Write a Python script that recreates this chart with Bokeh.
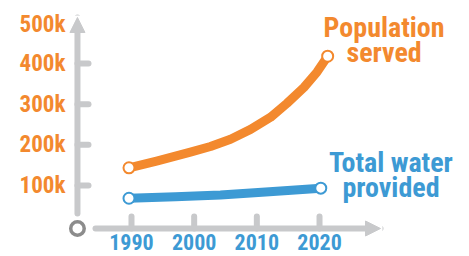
from bokeh.plotting import figure
from bokeh.models import Range1d, Arrow, NormalHead
from bokeh.core.properties import value
from bokeh.embed import file_html
from bokeh.resources import INLINE

# ---- data (values in thousands) ----
years_pop = [1989.6, 1994, 1999.4, 2002.6, 2005.8, 2009.0, 2012.2, 2014.8, 2017.5, 2019.6, 2021.3]
population = [143.6, 160, 182, 196, 214, 238, 268, 302, 341, 379, 418]
years_water = [1989.6, 1997, 2004.2, 2012, 2020.2]
water = [68.8, 72.5, 77, 85, 93.5]
x_ticks = [1990, 2000, 2010, 2020]
x_labels = ["1990", "2000", "2010", "2020"]
y_ticks = [100, 200, 300, 400]
y_labels = ["100k", "200k", "300k", "400k"]
y_top = [500]
y_top_label = ["500k"]
pop_label = ["Population", "served"]
water_label = ["Total water", "provided"]

ORANGE = "#F3892E"
BLUE = "#3D9AD4"
GRAY = "#C8C9CB"
DARK = "#8C8C8C"
FONT = "Liberation Sans Narrow, Roboto Condensed, Roboto"

# axis geometry (data units)
AX_X = 1981.38
AX_Y = -5.66
YAX_BOTTOM = 31.2
YAX_TIP = 513.2
XAX_LEFT = 1984.26
XAX_TIP = 2029.73
YTICK_LEN = 1.76
XTICK_TOP = 23.9

p = figure(width=469, height=256, output_backend="svg", toolbar_location=None,
           x_range=Range1d(1969.10, 2043.93), y_range=Range1d(-74.5, 555.0),
           min_border=0, min_border_left=0, min_border_right=0,
           min_border_top=0, min_border_bottom=0)
p.axis.visible = False
p.grid.visible = False
p.outline_line_color = None
p.background_fill_color = "white"
p.border_fill_color = "white"

# axis lines with arrow heads
p.add_layout(Arrow(end=NormalHead(size=15, fill_color=GRAY, line_color=GRAY, line_width=1),
                   x_start=AX_X, y_start=YAX_BOTTOM, x_end=AX_X, y_end=YAX_TIP,
                   line_color=GRAY, line_width=6, line_cap="round"))
p.add_layout(Arrow(end=NormalHead(size=15, fill_color=GRAY, line_color=GRAY, line_width=1),
                   x_start=XAX_LEFT, y_start=AX_Y, x_end=XAX_TIP, y_end=AX_Y,
                   line_color=GRAY, line_width=6, line_cap="round"))

# tick marks
p.segment(x0=[AX_X] * len(y_ticks), y0=y_ticks, x1=[AX_X + YTICK_LEN] * len(y_ticks), y1=y_ticks,
          line_color=GRAY, line_width=6, line_cap="round")
p.segment(x0=x_ticks, y0=[AX_Y] * len(x_ticks), x1=x_ticks, y1=[XTICK_TOP] * len(x_ticks),
          line_color=GRAY, line_width=6, line_cap="round")

# origin circle
p.scatter([AX_X], [AX_Y], size=13.5, fill_color="white", line_color=DARK, line_width=3.5)

# tick labels
p.text(x=[AX_X] * len(y_ticks), y=y_ticks, text=y_labels, x_offset=-12,
       text_align="right", text_baseline="middle", text_color=ORANGE,
       text_font=value(FONT), text_font_style="bold", text_font_size="23px")
p.text(x=[AX_X], y=y_top, text=y_top_label, x_offset=-12, y_offset=2,
       text_align="right", text_baseline="middle", text_color=ORANGE,
       text_font=value(FONT), text_font_style="bold", text_font_size="23px")
p.text(x=x_ticks, y=[AX_Y] * len(x_ticks), text=x_labels, y_offset=13,
       text_align="center", text_baseline="middle", text_color=BLUE,
       text_font=value(FONT), text_font_style="bold", text_font_size="22px")

# series
p.line(years_pop, population, line_color=ORANGE, line_width=9, line_cap="round", line_join="round")
p.line(years_water, water, line_color=BLUE, line_width=9, line_cap="round", line_join="round")
p.scatter([years_pop[0], years_pop[-1]], [population[0], population[-1]], size=11,
          fill_color="white", line_color=ORANGE, line_width=2)
p.scatter([years_water[0], years_water[-1]], [water[0], water[-1]], size=11,
          fill_color="white", line_color=BLUE, line_width=2)

# series labels
p.text(x=[2030.3, 2030.3], y=[488.6, 427], text=pop_label,
       text_align="center", text_baseline="middle", text_color=ORANGE,
       text_font=value(FONT), text_font_style="bold", text_font_size="28px")
p.text(x=[2031.4, 2031.4], y=[155.9, 94.4], text=water_label,
       text_align="center", text_baseline="middle", text_color=BLUE,
       text_font=value(FONT), text_font_style="bold", text_font_size="28px")

open("out.html", "w").write(file_html(p, INLINE))
